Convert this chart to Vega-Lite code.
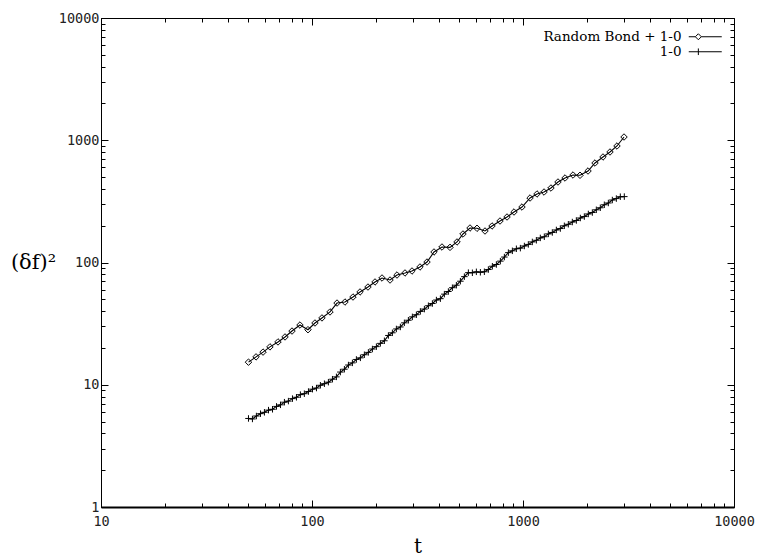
{
  "$schema": "https://vega.github.io/schema/vega-lite/v6.json",
  "width": 633,
  "height": 489,
  "autosize": {"type": "none"},
  "padding": {"left": 101, "top": 18, "right": 25, "bottom": 50},
  "background": "white",
  "config": {
    "view": {"stroke": "black", "strokeWidth": 1},
    "axis": {"grid": false, "labelFont": "DejaVu Sans Mono", "labelFontSize": 13.5, "labelColor": "#222", "tickColor": "black", "domainColor": "black", "titleFont": "DejaVu Serif", "titleFontWeight": "normal", "titleColor": "black"},
    "legend": {"labelFont": "DejaVu Serif", "labelFontSize": 13.5, "labelColor": "black"}
  },
  "data": {"values": [
    {"t": 50, "v": 15.3, "s": "Random Bond + 1-0"},
    {"t": 54.3, "v": 16.9, "s": "Random Bond + 1-0"},
    {"t": 58.6, "v": 18.5, "s": "Random Bond + 1-0"},
    {"t": 63.2, "v": 20.4, "s": "Random Bond + 1-0"},
    {"t": 69.0, "v": 22.4, "s": "Random Bond + 1-0"},
    {"t": 74.5, "v": 24.6, "s": "Random Bond + 1-0"},
    {"t": 80.4, "v": 27.5, "s": "Random Bond + 1-0"},
    {"t": 87.7, "v": 30.8, "s": "Random Bond + 1-0"},
    {"t": 95.7, "v": 28.2, "s": "Random Bond + 1-0"},
    {"t": 103.3, "v": 32.0, "s": "Random Bond + 1-0"},
    {"t": 111.5, "v": 35.2, "s": "Random Bond + 1-0"},
    {"t": 121.7, "v": 39.4, "s": "Random Bond + 1-0"},
    {"t": 131.4, "v": 46.6, "s": "Random Bond + 1-0"},
    {"t": 143.3, "v": 47.5, "s": "Random Bond + 1-0"},
    {"t": 156.4, "v": 52.2, "s": "Random Bond + 1-0"},
    {"t": 168.9, "v": 57.4, "s": "Random Bond + 1-0"},
    {"t": 184.2, "v": 63.0, "s": "Random Bond + 1-0"},
    {"t": 198.9, "v": 69.3, "s": "Random Bond + 1-0"},
    {"t": 214.7, "v": 74.7, "s": "Random Bond + 1-0"},
    {"t": 234.3, "v": 71.9, "s": "Random Bond + 1-0"},
    {"t": 252.8, "v": 79.0, "s": "Random Bond + 1-0"},
    {"t": 275.9, "v": 82.1, "s": "Random Bond + 1-0"},
    {"t": 297.8, "v": 85.2, "s": "Random Bond + 1-0"},
    {"t": 324.9, "v": 91.9, "s": "Random Bond + 1-0"},
    {"t": 350.8, "v": 100.9, "s": "Random Bond + 1-0"},
    {"t": 378.6, "v": 121.9, "s": "Random Bond + 1-0"},
    {"t": 413.1, "v": 133.9, "s": "Random Bond + 1-0"},
    {"t": 450.9, "v": 133.0, "s": "Random Bond + 1-0"},
    {"t": 486.7, "v": 147.2, "s": "Random Bond + 1-0"},
    {"t": 519.5, "v": 171.1, "s": "Random Bond + 1-0"},
    {"t": 560.8, "v": 191.5, "s": "Random Bond + 1-0"},
    {"t": 605.3, "v": 190.5, "s": "Random Bond + 1-0"},
    {"t": 660.6, "v": 181.0, "s": "Random Bond + 1-0"},
    {"t": 713.1, "v": 198.9, "s": "Random Bond + 1-0"},
    {"t": 778.1, "v": 218.5, "s": "Random Bond + 1-0"},
    {"t": 840, "v": 235.6, "s": "Random Bond + 1-0"},
    {"t": 906.5, "v": 258.9, "s": "Random Bond + 1-0"},
    {"t": 989, "v": 284.4, "s": "Random Bond + 1-0"},
    {"t": 1080, "v": 337, "s": "Random Bond + 1-0"},
    {"t": 1165, "v": 363.4, "s": "Random Bond + 1-0"},
    {"t": 1258, "v": 377.3, "s": "Random Bond + 1-0"},
    {"t": 1357, "v": 406.8, "s": "Random Bond + 1-0"},
    {"t": 1465, "v": 455.5, "s": "Random Bond + 1-0"},
    {"t": 1582, "v": 491.2, "s": "Random Bond + 1-0"},
    {"t": 1726, "v": 519.6, "s": "Random Bond + 1-0"},
    {"t": 1863, "v": 517.0, "s": "Random Bond + 1-0"},
    {"t": 2033, "v": 560.4, "s": "Random Bond + 1-0"},
    {"t": 2194, "v": 651.4, "s": "Random Bond + 1-0"},
    {"t": 2394, "v": 729.6, "s": "Random Bond + 1-0"},
    {"t": 2584, "v": 801.6, "s": "Random Bond + 1-0"},
    {"t": 2789, "v": 897.5, "s": "Random Bond + 1-0"},
    {"t": 3011, "v": 1063, "s": "Random Bond + 1-0"},
    {"t": 50, "v": 5.3, "s": "1-0"},
    {"t": 52.2, "v": 5.25, "s": "1-0"},
    {"t": 54.5, "v": 5.55, "s": "1-0"},
    {"t": 57.0, "v": 5.8, "s": "1-0"},
    {"t": 59.5, "v": 5.95, "s": "1-0"},
    {"t": 62.2, "v": 6.2, "s": "1-0"},
    {"t": 65.0, "v": 6.3, "s": "1-0"},
    {"t": 67.9, "v": 6.65, "s": "1-0"},
    {"t": 70.9, "v": 6.85, "s": "1-0"},
    {"t": 74.0, "v": 7.2, "s": "1-0"},
    {"t": 77.3, "v": 7.35, "s": "1-0"},
    {"t": 80.8, "v": 7.7, "s": "1-0"},
    {"t": 84.4, "v": 7.9, "s": "1-0"},
    {"t": 88.1, "v": 8.3, "s": "1-0"},
    {"t": 92.0, "v": 8.45, "s": "1-0"},
    {"t": 96.2, "v": 8.8, "s": "1-0"},
    {"t": 100.5, "v": 9.2, "s": "1-0"},
    {"t": 105.0, "v": 9.4, "s": "1-0"},
    {"t": 109.6, "v": 9.9, "s": "1-0"},
    {"t": 114.5, "v": 10.2, "s": "1-0"},
    {"t": 119.6, "v": 10.5, "s": "1-0"},
    {"t": 125.0, "v": 11.1, "s": "1-0"},
    {"t": 130.5, "v": 11.6, "s": "1-0"},
    {"t": 136.3, "v": 12.7, "s": "1-0"},
    {"t": 142.4, "v": 13.4, "s": "1-0"},
    {"t": 148.8, "v": 14.5, "s": "1-0"},
    {"t": 155.4, "v": 15.1, "s": "1-0"},
    {"t": 162.3, "v": 16.1, "s": "1-0"},
    {"t": 169.6, "v": 16.6, "s": "1-0"},
    {"t": 177.1, "v": 17.6, "s": "1-0"},
    {"t": 185.0, "v": 18.4, "s": "1-0"},
    {"t": 193.3, "v": 19.6, "s": "1-0"},
    {"t": 201.9, "v": 20.5, "s": "1-0"},
    {"t": 210.9, "v": 21.8, "s": "1-0"},
    {"t": 220.3, "v": 22.9, "s": "1-0"},
    {"t": 230.2, "v": 25.3, "s": "1-0"},
    {"t": 240.4, "v": 26.6, "s": "1-0"},
    {"t": 251.1, "v": 28.6, "s": "1-0"},
    {"t": 262.3, "v": 29.7, "s": "1-0"},
    {"t": 274.0, "v": 32.1, "s": "1-0"},
    {"t": 286.3, "v": 33.7, "s": "1-0"},
    {"t": 299.0, "v": 35.9, "s": "1-0"},
    {"t": 312.4, "v": 37.4, "s": "1-0"},
    {"t": 326.3, "v": 39.8, "s": "1-0"},
    {"t": 340.9, "v": 41.6, "s": "1-0"},
    {"t": 356.1, "v": 44.3, "s": "1-0"},
    {"t": 372.0, "v": 46.2, "s": "1-0"},
    {"t": 388.6, "v": 49.3, "s": "1-0"},
    {"t": 405.9, "v": 50.6, "s": "1-0"},
    {"t": 424.0, "v": 55.1, "s": "1-0"},
    {"t": 442.9, "v": 57.9, "s": "1-0"},
    {"t": 462.7, "v": 62.2, "s": "1-0"},
    {"t": 483.3, "v": 65.2, "s": "1-0"},
    {"t": 504.9, "v": 70.3, "s": "1-0"},
    {"t": 527.4, "v": 76.6, "s": "1-0"},
    {"t": 550.9, "v": 82.6, "s": "1-0"},
    {"t": 575.5, "v": 82.4, "s": "1-0"},
    {"t": 601.2, "v": 83.9, "s": "1-0"},
    {"t": 628.0, "v": 83.2, "s": "1-0"},
    {"t": 656.0, "v": 84.0, "s": "1-0"},
    {"t": 685.3, "v": 87.6, "s": "1-0"},
    {"t": 715.8, "v": 93.2, "s": "1-0"},
    {"t": 747.8, "v": 96.3, "s": "1-0"},
    {"t": 781.1, "v": 102.6, "s": "1-0"},
    {"t": 816.0, "v": 110.8, "s": "1-0"},
    {"t": 852.4, "v": 120.4, "s": "1-0"},
    {"t": 890.4, "v": 124.6, "s": "1-0"},
    {"t": 930.1, "v": 129.5, "s": "1-0"},
    {"t": 971.6, "v": 131.1, "s": "1-0"},
    {"t": 1015, "v": 136.5, "s": "1-0"},
    {"t": 1060, "v": 140.6, "s": "1-0"},
    {"t": 1107, "v": 147.3, "s": "1-0"},
    {"t": 1157, "v": 152.0, "s": "1-0"},
    {"t": 1208, "v": 158.9, "s": "1-0"},
    {"t": 1262, "v": 162.5, "s": "1-0"},
    {"t": 1319, "v": 171.4, "s": "1-0"},
    {"t": 1377, "v": 176.1, "s": "1-0"},
    {"t": 1439, "v": 184.6, "s": "1-0"},
    {"t": 1503, "v": 189.6, "s": "1-0"},
    {"t": 1570, "v": 199.6, "s": "1-0"},
    {"t": 1640, "v": 205.5, "s": "1-0"},
    {"t": 1713, "v": 214.3, "s": "1-0"},
    {"t": 1790, "v": 220.7, "s": "1-0"},
    {"t": 1870, "v": 231.2, "s": "1-0"},
    {"t": 1953, "v": 237.6, "s": "1-0"},
    {"t": 2040, "v": 249.5, "s": "1-0"},
    {"t": 2131, "v": 256.3, "s": "1-0"},
    {"t": 2226, "v": 269.8, "s": "1-0"},
    {"t": 2325, "v": 280.4, "s": "1-0"},
    {"t": 2429, "v": 296.6, "s": "1-0"},
    {"t": 2538, "v": 306.8, "s": "1-0"},
    {"t": 2651, "v": 324.4, "s": "1-0"},
    {"t": 2769, "v": 333.3, "s": "1-0"},
    {"t": 2892, "v": 345.3, "s": "1-0"},
    {"t": 3021, "v": 346.0, "s": "1-0"}
  ]},
  "layer": [
    {
      "mark": {"type": "line", "color": "black", "strokeWidth": 1.1},
      "encoding": {
        "x": {"field": "t", "type": "quantitative", "scale": {"type": "log", "domain": [10, 10000], "nice": false},
          "axis": {"orient": "bottom", "title": "t", "titleFontSize": 20, "titleY": 45, "titleBaseline": "alphabetic",
            "values": [10,20,30,40,50,60,70,80,90,100,200,300,400,500,600,700,800,900,1000,2000,3000,4000,5000,6000,7000,8000,9000,10000],
            "format": "d", "labelExpr": "indexof([10,100,1000,10000], datum.value) >= 0 ? datum.label : ''",
            "tickSize": {"condition": {"test": "indexof([10,100,1000,10000], datum.value) >= 0", "value": -7}, "value": -4},
            "labelPadding": 14, "labelFlush": false, "labelOverlap": false, "domainWidth": 2}},
        "y": {"field": "v", "type": "quantitative", "scale": {"type": "log", "domain": [1, 10000], "nice": false},
          "axis": {"orient": "left", "title": "(δf)²", "titleFontSize": 21, "titleAngle": 0, "titleX": -68, "titleY": 244, "titleAlign": "center", "titleBaseline": "middle",
            "values": [1,2,3,4,5,6,7,8,9,10,20,30,40,50,60,70,80,90,100,200,300,400,500,600,700,800,900,1000,2000,3000,4000,5000,6000,7000,8000,9000,10000],
            "format": "d", "labelExpr": "indexof([1,10,100,1000,10000], datum.value) >= 0 ? datum.label : ''",
            "tickSize": {"condition": {"test": "indexof([1,10,100,1000,10000], datum.value) >= 0", "value": -7}, "value": -4},
            "labelPadding": 9, "labelFlush": false, "labelOverlap": false}},
        "detail": {"field": "s"}
      }
    },
    {
      "mark": {"type": "point", "filled": false, "stroke": "black", "strokeWidth": 1, "size": 42, "opacity": 1},
      "encoding": {
        "x": {"field": "t", "type": "quantitative",
          "axis": {"orient": "top", "title": null, "labels": false, "domain": false,
            "values": [10,20,30,40,50,60,70,80,90,100,200,300,400,500,600,700,800,900,1000,2000,3000,4000,5000,6000,7000,8000,9000,10000],
            "tickSize": {"condition": {"test": "indexof([10,100,1000,10000], datum.value) >= 0", "value": -7}, "value": -4}}},
        "y": {"field": "v", "type": "quantitative",
          "axis": {"orient": "right", "title": null, "labels": false, "domain": false,
            "values": [1,2,3,4,5,6,7,8,9,10,20,30,40,50,60,70,80,90,100,200,300,400,500,600,700,800,900,1000,2000,3000,4000,5000,6000,7000,8000,9000,10000],
            "tickSize": {"condition": {"test": "indexof([1,10,100,1000,10000], datum.value) >= 0", "value": -7}, "value": -4}}},
        "shape": {"field": "s", "type": "nominal",
          "scale": {"domain": ["Random Bond + 1-0", "1-0"], "range": ["diamond", "M-1,0L1,0M0,-1L0,1"]},
          "legend": null}
      }
    },
    {
      "transform": [{"filter": "datum.t < 0"}],
      "mark": {"type": "point", "filled": false, "stroke": "black", "strokeWidth": 1},
      "encoding": {
        "x": {"field": "t", "type": "quantitative", "axis": null},
        "y": {"field": "v", "type": "quantitative", "axis": null},
        "shape": {"field": "s", "type": "nominal",
          "scale": {"domain": ["Random Bond + 1-0", "1-0"], "range": ["M-1,0L0.1,0M1.1,0L4.5,0M0.6,-0.5L1.1,0L0.6,0.5L0.1,0Z", "M-1,0L4.5,0M0.6,-0.55L0.6,0.55"]},
          "legend": {"title": null, "orient": "none", "legendX": 587, "legendY": 12, "padding": 0, "rowPadding": 0,
            "symbolSize": 144, "symbolStrokeWidth": 1, "symbolStrokeColor": "black", "symbolFillColor": "transparent", "symbolOpacity": 1,
            "labelAlign": "right", "labelOffset": -20}}
      }
    }
  ],
  "resolve": {"axis": {"x": "independent", "y": "independent"}, "scale": {"shape": "independent"}}
}
